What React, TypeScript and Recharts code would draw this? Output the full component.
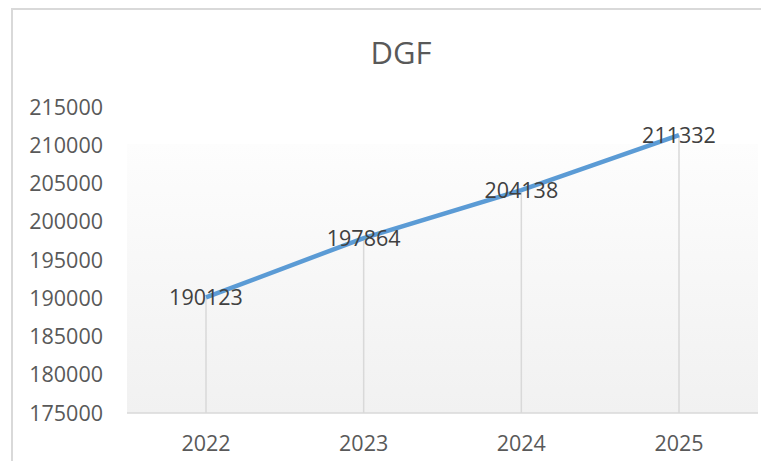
import {
  LineChart,
  Line,
  XAxis,
  YAxis,
  CartesianGrid,
  ReferenceLine,
  LabelList,
} from "recharts";

const years = ["2022", "2023", "2024", "2025"];
const dgfValues = [190123, 197864, 204138, 211332];
const yTicks = [175000, 180000, 185000, 190000, 195000, 200000, 205000, 210000, 215000];

const data = years.map((year, i) => ({ year, dgf: dgfValues[i] }));

const FONT = "'Open Sans', 'Liberation Sans', sans-serif";

export default function App() {
  return (
    <div
      style={{
        position: "relative",
        width: 769,
        height: 469,
        margin: -8,
        overflow: "hidden",
        background: "#fff",
        fontFamily: FONT,
      }}
    >
      {/* gradient used by the plot background */}
      <svg width={0} height={0} style={{ position: "absolute" }}>
        <defs>
          <linearGradient id="plotBg" x1="0" y1="0" x2="0" y2="1">
            <stop offset="0" stopColor="#ffffff" />
            <stop offset="0.12" stopColor="#ffffff" />
            <stop offset="0.12" stopColor="#fdfdfd" />
            <stop offset="1" stopColor="#f1f1f1" />
          </linearGradient>
        </defs>
      </svg>

      {/* chart frame */}
      <div
        style={{
          position: "absolute",
          left: 11,
          top: 8,
          width: 800,
          height: 500,
          border: "2px solid #d9d9d9",
          boxSizing: "border-box",
        }}
      />

      <div
        style={{
          position: "absolute",
          left: 0,
          right: 0,
          top: 33,
          textAlign: "center",
          fontSize: 31,
          color: "#595959",
          lineHeight: "38px",
          paddingLeft: 33,
        }}
      >
        DGF
      </div>

      <div style={{ position: "absolute", left: 0, top: 0 }}>
        <LineChart
          width={769}
          height={469}
          data={data}
          margin={{ top: 107, right: 11, bottom: 0, left: 0 }}
        >
          <CartesianGrid
            horizontal={false}
            vertical={false}
            fill="url(#plotBg)"
          />
          <XAxis
            dataKey="year"
            height={56}
            padding={{ left: 79, right: 79 }}
            tickLine={false}
            tickSize={0}
            tickMargin={23}
            axisLine={{ stroke: "#d9d9d9", strokeWidth: 1.5 }}
            tick={{ fill: "#595959", fontSize: 21.5, fontFamily: FONT }}
          />
          <YAxis
            width={127}
            domain={[175000, 215000]}
            ticks={yTicks}
            interval={0}
            axisLine={false}
            tickLine={false}
            tickSize={0}
            tickMargin={24}
            tick={{ fill: "#595959", fontSize: 21.5, fontFamily: FONT }}
          />
          {data.map((d) => (
            <ReferenceLine
              key={d.year}
              segment={[
                { x: d.year, y: 175000 },
                { x: d.year, y: d.dgf },
              ]}
              stroke="#d9d9d9"
              strokeWidth={1.5}
            />
          ))}
          <Line
            type="linear"
            dataKey="dgf"
            stroke="#5b9bd5"
            strokeWidth={4.5}
            dot={false}
            activeDot={false}
            isAnimationActive={false}
          >
            <LabelList
              dataKey="dgf"
              position="center"
              fill="#404040"
              fontSize={21.5}
              fontFamily={FONT}
            />
          </Line>
        </LineChart>
      </div>
    </div>
  );
}
